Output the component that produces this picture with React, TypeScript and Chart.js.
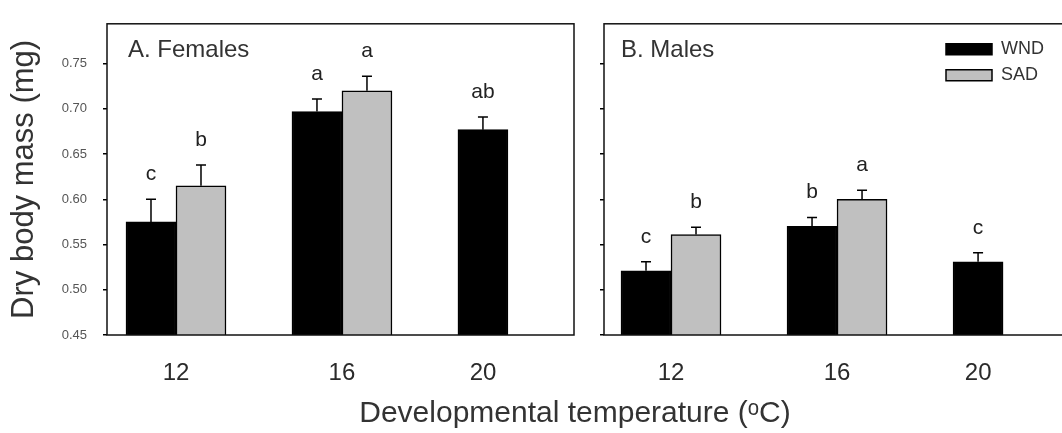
import React, { useEffect, useRef } from 'react';
import { Chart, registerables } from 'chart.js';

Chart.register(...registerables);

const FONT = "'Liberation Sans', Arial, Helvetica, sans-serif";
Chart.defaults.font.family = FONT;
Chart.defaults.color = '#333';

// ---- data ----
const categories = ['12', '16', '20'];
const seriesLabels = ['WND', 'SAD'];
const yTickValues = [0.45, 0.5, 0.55, 0.6, 0.65, 0.7, 0.75];

const femalesWND = [0.575, 0.697, 0.677];
const femalesWNDErr = [0.025, 0.014, 0.014];
const femalesWNDLetters = ['c', 'a', 'ab'];
const femalesSAD = [0.615, 0.72, null];
const femalesSADErr = [0.023, 0.016, null];
const femalesSADLetters = ['b', 'a', null];

const malesWND = [0.521, 0.57, 0.531];
const malesWNDErr = [0.01, 0.01, 0.01];
const malesWNDLetters = ['c', 'b', 'c'];
const malesSAD = [0.561, 0.6, null];
const malesSADErr = [0.008, 0.01, null];
const malesSADLetters = ['b', 'a', null];

const panelTitles = ['A. Females', 'B. Males'];
const yTitle = 'Dry body mass (mg)';
const xTitle = 'Developmental temperature (\u1D52C)';

// ---- helpers ----
const toPoints = (vals: (number | null)[]) => vals.map((v, i) => ({ x: i, y: v }));
const HALF_BAR_UNITS = 0.15;
const tickPos = (i: number, sad: (number | null)[]) => (sad[i] == null ? i - HALF_BAR_UNITS : i);

type PanelCfg = {
  values: (number | null)[][];
  errors: (number | null)[][];
  letters: (string | null)[][];
  title: string;
  titleDx: number;
  legend: boolean;
};

function makePanelPlugin(cfg: PanelCfg) {
  return {
    id: 'panelDecor',
    beforeDraw(chart: any) {
      if (!cfg.legend) return;
      const lg = chart.legend;
      const ca = chart.chartArea;
      if (lg && ca) {
        const w = lg.width;
        const h = lg.height;
        lg.left = ca.left + 334;
        lg.top = ca.top + 8.5;
        lg.right = lg.left + w;
        lg.bottom = lg.top + Math.max(h, 200);
      }
    },
    afterDatasetsDraw(chart: any) {
      const ctx = chart.ctx;
      const yScale = chart.scales.y;
      ctx.save();
      ctx.strokeStyle = '#000';
      ctx.lineWidth = 1.5;
      chart.data.datasets.forEach((_ds: any, di: number) => {
        const meta = chart.getDatasetMeta(di);
        meta.data.forEach((bar: any, i: number) => {
          const v = cfg.values[di][i];
          const e = cfg.errors[di][i];
          if (v == null || e == null) return;
          const x = bar.x;
          const y0 = yScale.getPixelForValue(v);
          const y1 = yScale.getPixelForValue(v + e);
          ctx.beginPath();
          ctx.moveTo(x, y0);
          ctx.lineTo(x, y1);
          ctx.moveTo(x - 5, y1);
          ctx.lineTo(x + 5, y1);
          ctx.stroke();
        });
      });
      ctx.restore();
    },
    afterDraw(chart: any) {
      const ctx = chart.ctx;
      const ca = chart.chartArea;
      const yScale = chart.scales.y;
      ctx.save();
      // frame
      ctx.strokeStyle = '#111';
      ctx.lineWidth = 1.5;
      ctx.strokeRect(ca.left, ca.top, ca.right - ca.left, ca.bottom - ca.top);
      // significance letters
      ctx.fillStyle = '#222';
      ctx.font = `21px ${FONT}`;
      ctx.textAlign = 'center';
      ctx.textBaseline = 'alphabetic';
      chart.data.datasets.forEach((_ds: any, di: number) => {
        const meta = chart.getDatasetMeta(di);
        meta.data.forEach((bar: any, i: number) => {
          const v = cfg.values[di][i];
          const e = cfg.errors[di][i];
          const t = cfg.letters[di][i];
          if (v == null || e == null || !t) return;
          const y1 = yScale.getPixelForValue(v + e);
          ctx.fillText(t, bar.x, y1 - 19);
        });
      });
      // panel title
      ctx.fillStyle = '#333';
      ctx.font = `24px ${FONT}`;
      ctx.textAlign = 'left';
      ctx.fillText(cfg.title, ca.left + cfg.titleDx, ca.top + 33);
      ctx.restore();
    },
  };
}

function makeConfig(side: 'left' | 'right'): any {
  const isLeft = side === 'left';
  const wnd = isLeft ? femalesWND : malesWND;
  const sad = isLeft ? femalesSAD : malesSAD;
  const cfg: PanelCfg = {
    values: [wnd, sad],
    errors: isLeft ? [femalesWNDErr, femalesSADErr] : [malesWNDErr, malesSADErr],
    letters: isLeft ? [femalesWNDLetters, femalesSADLetters] : [malesWNDLetters, malesSADLetters],
    title: isLeft ? panelTitles[0] : panelTitles[1],
    titleDx: isLeft ? 21 : 17,
    legend: !isLeft,
  };

  const scales: any = {
    x: {
      type: 'linear',
      min: isLeft ? -0.4157 : -0.4036,
      max: isLeft ? 2.398 : 2.361,
      offset: false,
      grid: { display: false, offset: false },
      border: { display: false },
      afterBuildTicks: (ax: any) => {
        ax.ticks = categories.map((_c, i) => ({ value: tickPos(i, sad) }));
      },
      afterFit: (ax: any) => {
        ax.height = 46;
      },
      ticks: {
        autoSkip: false,
        maxRotation: 0,
        padding: 16,
        color: '#2a2a2a',
        font: { size: 24, family: FONT },
        callback: (_v: any, i: number) => categories[i],
      },
    },
    y: {
      type: 'linear',
      min: 0.45,
      max: 0.794,
      afterBuildTicks: (ax: any) => {
        ax.ticks = yTickValues.map((v) => ({ value: v }));
      },
      afterFit: (ax: any) => {
        ax.width = isLeft ? 107 : 14;
      },
      grid: {
        drawOnChartArea: false,
        drawTicks: true,
        tickLength: 4,
        color: '#000',
        lineWidth: 1.5,
      },
      border: { display: false },
      ticks: {
        padding: 16,
        color: '#555',
        font: { size: 13, family: FONT },
        callback: (v: any) => (isLeft ? Number(v).toFixed(2) : ''),
      },
      title: {
        display: isLeft,
        text: yTitle,
        color: '#333',
        font: { size: 31, family: FONT },
        padding: { top: 6, bottom: 0 },
      },
    },
  };
  if (isLeft) {
    scales.yR = {
      type: 'linear',
      position: 'right',
      display: true,
      grid: { display: false },
      border: { display: false },
      ticks: { display: false },
      afterFit: (ax: any) => {
        ax.width = 576;
      },
    };
  }

  return {
    type: 'bar',
    data: {
      datasets: [
        {
          label: seriesLabels[0],
          data: toPoints(wnd),
          backgroundColor: '#000',
          borderColor: '#000',
          borderWidth: 1.5,
        },
        {
          label: seriesLabels[1],
          data: toPoints(sad),
          backgroundColor: '#c0c0c0',
          borderColor: '#000',
          borderWidth: 1.5,
        },
      ],
    },
    options: {
      animation: false,
      responsive: false,
      maintainAspectRatio: false,
      devicePixelRatio: 1,
      layout: {
        padding: isLeft
          ? { top: 12, left: 0, right: 0, bottom: 0 }
          : { top: 12, left: 0, right: 7, bottom: 52 },
      },
      datasets: { bar: { barThickness: 50, grouped: true } },
      scales,
      plugins: {
        tooltip: { enabled: false },
        legend: {
          display: !isLeft,
          position: 'chartArea',
          align: 'start',
          labels: {
            boxWidth: 46,
            boxHeight: 11,
            padding: 8,
            color: '#333',
            font: { size: 18, family: FONT },
          },
        },
        title: {
          display: isLeft,
          position: 'bottom',
          text: xTitle,
          color: '#333',
          font: { size: 30, family: FONT, weight: 'normal' },
          padding: { top: 15, bottom: 1 },
        },
      },
    },
    plugins: [makePanelPlugin(cfg)],
  };
}

export default function App() {
  const leftRef = useRef<HTMLCanvasElement | null>(null);
  const rightRef = useRef<HTMLCanvasElement | null>(null);

  useEffect(() => {
    if (!leftRef.current || !rightRef.current) return;
    const c1 = new Chart(leftRef.current, makeConfig('left'));
    const c2 = new Chart(rightRef.current, makeConfig('right'));
    return () => {
      c1.destroy();
      c2.destroy();
    };
  }, []);

  return (
    <div
      style={{
        position: 'fixed',
        left: 0,
        top: 0,
        width: 1062,
        height: 433,
        overflow: 'hidden',
        background: '#fff',
      }}
    >
      <canvas
        ref={leftRef}
        width={1150}
        height={433}
        style={{ position: 'absolute', left: 0, top: 0, width: 1150, height: 433 }}
      />
      <canvas
        ref={rightRef}
        width={480}
        height={433}
        style={{ position: 'absolute', left: 590, top: 0, width: 480, height: 433 }}
      />
    </div>
  );
}
